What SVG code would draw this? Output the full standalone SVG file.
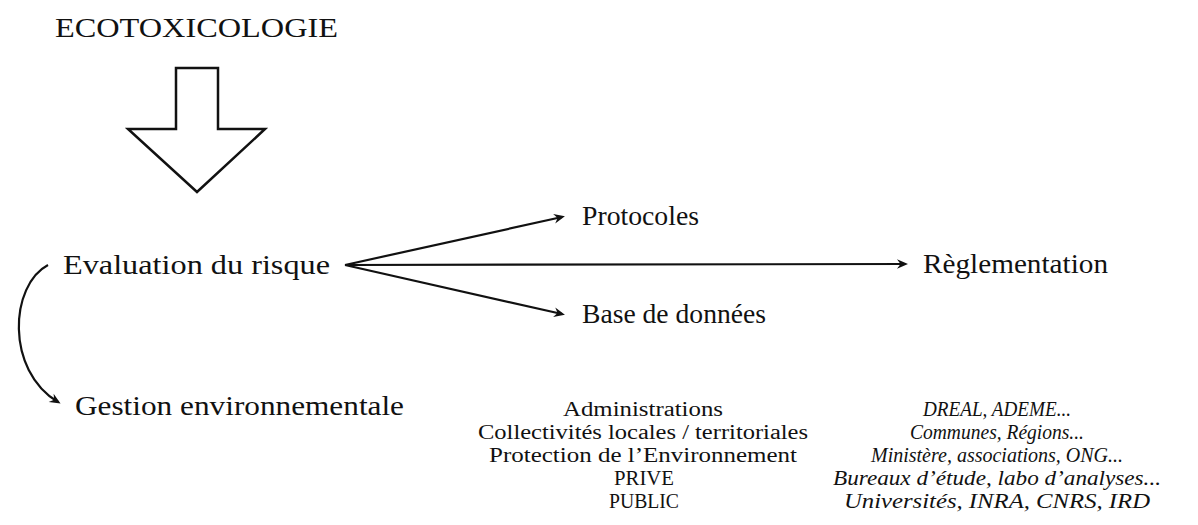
<svg xmlns="http://www.w3.org/2000/svg" width="1198" height="525" viewBox="0 0 1198 525">
  <style>
    text { font-family: 'Liberation Serif', 'DejaVu Serif', 'Times New Roman', serif; fill: #111; }
    .big { font-size: 28px; }
    .mid { font-size: 27px; }
    .col { font-size: 20px; text-anchor: middle; }
    .it { font-style: italic; }
    .link { fill: none; stroke: #111; stroke-width: 2.2; }
  </style>
  <defs>
    <!-- arrow tip with a concave back, placed 3px past the line end -->
    <marker id="head" viewBox="-12 -5 13 10" refX="-3" refY="0" markerWidth="13" markerHeight="10" markerUnits="userSpaceOnUse" orient="auto">
      <path d="M0,0 L-11,-4.8 L-7.5,0 L-11,4.8 Z" fill="#111"/>
    </marker>
  </defs>
  <rect width="1198" height="525" fill="#fff"/>

  <!-- title and block arrow -->
  <g id="title">
    <text class="big" x="55" y="37" textLength="283" lengthAdjust="spacingAndGlyphs">ECOTOXICOLOGIE</text>
  </g>
  <g id="block-arrow">
    <polygon points="176,68 218,68 218,129 265,129 197,192 128,129 176,129" fill="#fff" stroke="#111" stroke-width="2.5" stroke-linejoin="miter"/>
  </g>

  <!-- main nodes -->
  <g id="evaluation">
    <text class="big" x="63" y="274" textLength="267" lengthAdjust="spacingAndGlyphs">Evaluation du risque</text>
  </g>
  <g id="protocoles">
    <text class="mid" x="582" y="225" textLength="117" lengthAdjust="spacingAndGlyphs">Protocoles</text>
  </g>
  <g id="base-donnees">
    <text class="mid" x="582" y="323" textLength="184" lengthAdjust="spacingAndGlyphs">Base de données</text>
  </g>
  <g id="reglementation">
    <text class="mid" x="923" y="273" textLength="185" lengthAdjust="spacingAndGlyphs">Règlementation</text>
  </g>
  <g id="gestion">
    <text class="big" x="75" y="415" textLength="329" lengthAdjust="spacingAndGlyphs">Gestion environnementale</text>
  </g>

  <!-- connectors -->
  <g id="connectors">
    <line class="link" x1="345" y1="265" x2="562" y2="217" marker-end="url(#head)"/>
    <line class="link" x1="345" y1="265" x2="905" y2="264" marker-end="url(#head)"/>
    <line class="link" x1="345" y1="265" x2="562" y2="314" marker-end="url(#head)"/>
    <path class="link" d="M48,265 C10,285 5,370 58,402" marker-end="url(#head)"/>
  </g>

  <!-- actors -->
  <g id="actors">
    <text class="col" x="643" y="416" textLength="160" lengthAdjust="spacingAndGlyphs">Administrations</text>
    <text class="col" x="643" y="439" textLength="330" lengthAdjust="spacingAndGlyphs">Collectivités locales / territoriales</text>
    <text class="col" x="643" y="462" textLength="308" lengthAdjust="spacingAndGlyphs">Protection de l’Environnement</text>
    <text class="col" x="644" y="485" textLength="60" lengthAdjust="spacingAndGlyphs">PRIVE</text>
    <text class="col" x="644" y="508" textLength="70" lengthAdjust="spacingAndGlyphs">PUBLIC</text>
  </g>

  <!-- examples -->
  <g id="examples">
    <text class="col it" x="997" y="416" textLength="148" lengthAdjust="spacingAndGlyphs">DREAL, ADEME...</text>
    <text class="col it" x="997" y="439" textLength="174" lengthAdjust="spacingAndGlyphs">Communes, Régions...</text>
    <text class="col it" x="997" y="462" textLength="252" lengthAdjust="spacingAndGlyphs">Ministère, associations, ONG...</text>
    <text class="col it" x="997" y="485" textLength="328" lengthAdjust="spacingAndGlyphs">Bureaux d’étude, labo d’analyses...</text>
    <text class="col it" x="997" y="508" textLength="306" lengthAdjust="spacingAndGlyphs">Universités, INRA, CNRS, IRD</text>
  </g>
</svg>
